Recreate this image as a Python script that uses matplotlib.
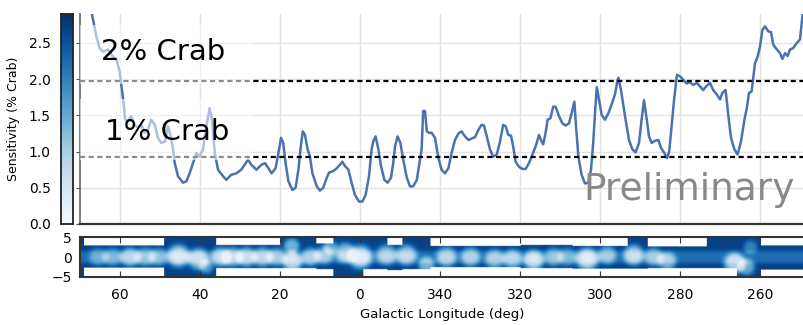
import numpy as np
import matplotlib
matplotlib.use('Agg')
import matplotlib.pyplot as plt
from matplotlib.patches import Rectangle
from matplotlib.ticker import FuncFormatter

# sensitivity curve, longitude in deg (negative = 360 + l)
lon = [67.2, 65.9, 65.1, 64.25, 63.0, 61.75, 60.9, 60.1, 59.5, 59.1,
       58.7, 58.0, 57.2, 56.3, 55.5, 54.7, 53.8, 53.0, 52.2, 51.3,
       50.5, 49.7, 48.7, 48.0, 47.3, 46.75, 46.3, 45.5, 44.25, 43.4,
       42.6, 41.75, 40.9, 40.1, 39.25, 38.4, 37.6, 37.0, 36.3, 35.5,
       34.25, 33.4, 32.2, 30.9, 29.7, 28.8, 28.0, 27.2, 25.9, 24.6,
       23.75, 22.9, 22.1, 21.1, 20.4, 19.75, 19.2, 18.6, 17.9, 16.9,
       16.1, 15.4, 14.8, 14.3, 13.75, 13.1, 12.5, 11.9, 10.8, 10.0,
       9.2, 8.3, 7.75, 6.7, 5.8, 5.0, 4.4, 3.75, 2.9, 2.1,
       1.25, 0.25, -0.6, -1.4, -2.25, -2.9, -3.3, -3.9, -4.6, -5.25,
       -6.1, -6.9, -7.75, -8.3, -8.75, -9.4, -10.1, -10.8, -11.7, -12.5,
       -13.3, -14.2, -14.75, -15.4, -15.8, -16.25, -16.7, -17.25, -17.9, -18.75,
       -19.6, -20.4, -21.25, -22.1, -22.9, -23.75, -24.6, -25.4, -26.25, -27.1,
       -27.9, -28.75, -29.6, -30.4, -31.0, -31.7, -32.5, -33.3, -34.2, -35.0,
       -35.8, -36.4, -37.1, -37.75, -38.3, -38.9, -39.75, -40.6, -41.4, -42.25,
       -43.1, -43.9, -44.75, -45.25, -45.8, -46.4, -46.9, -47.6, -48.3, -48.9,
       -49.75, -50.6, -51.4, -52.25, -52.9, -53.6, -54.0, -54.6, -55.4, -56.25,
       -57.1, -57.75, -58.3, -58.75, -59.2, -59.75, -60.4, -61.25, -62.1, -62.9,
       -63.75, -64.4, -64.6, -65.25, -66.25, -67.25, -68.1, -68.9, -69.75, -70.4,
       -71.0, -71.7, -72.25, -72.9, -73.75, -74.6, -75.25, -76.1, -76.75, -77.3,
       -77.9, -78.6, -79.25, -80.0, -80.8, -81.7, -82.5, -83.3, -84.2, -85.0,
       -85.8, -86.7, -87.5, -88.3, -89.2, -90.0, -90.6, -91.4, -92.1, -92.75,
       -93.6, -94.4, -95.25, -96.1, -96.7, -97.25, -97.9, -98.4, -98.75, -99.4,
       -100.0, -100.6, -101.25, -102.1, -102.75, -103.3, -104.2, -105.0, -105.6, -106.25,
       -106.9, -107.5, -108.3, -109.2, -110.0, -110.6, -110.9]
sens = [2.95, 2.59, 2.43, 2.38, 2.41, 2.31, 2.27, 2.11, 1.85, 1.67,
        1.44, 1.42, 1.49, 1.37, 1.33, 1.37, 1.26, 1.30, 1.44, 1.37,
        1.19, 1.12, 1.14, 1.35, 1.21, 1.03, 0.84, 0.66, 0.57, 0.59,
        0.70, 0.84, 0.98, 0.93, 1.03, 1.35, 1.60, 1.44, 0.98, 0.75,
        0.66, 0.61, 0.68, 0.70, 0.75, 0.82, 0.89, 0.82, 0.75, 0.82,
        0.84, 0.77, 0.70, 0.77, 0.98, 1.19, 1.12, 0.84, 0.59, 0.47,
        0.50, 0.75, 1.07, 1.28, 1.23, 1.03, 0.93, 0.70, 0.52, 0.46,
        0.50, 0.64, 0.71, 0.73, 0.77, 0.82, 0.86, 0.80, 0.75, 0.57,
        0.40, 0.31, 0.31, 0.40, 0.66, 1.03, 1.14, 1.21, 1.03, 0.80,
        0.61, 0.57, 0.64, 0.84, 1.07, 1.21, 1.12, 0.89, 0.64, 0.52,
        0.52, 0.61, 0.80, 1.03, 1.56, 1.56, 1.28, 1.26, 1.26, 1.19,
        0.91, 0.75, 0.70, 0.77, 0.98, 1.16, 1.25, 1.28, 1.21, 1.16,
        1.18, 1.20, 1.30, 1.37, 1.36, 1.21, 1.03, 0.93, 0.96, 1.14,
        1.37, 1.35, 1.23, 1.22, 1.07, 0.86, 0.79, 0.76, 0.76, 0.84,
        0.96, 1.07, 1.23, 1.16, 1.10, 1.26, 1.44, 1.46, 1.62, 1.62,
        1.49, 1.39, 1.36, 1.39, 1.53, 1.69, 1.35, 0.93, 0.68, 0.56,
        0.57, 0.75, 1.12, 1.53, 1.89, 1.72, 1.51, 1.44, 1.53, 1.65,
        1.79, 1.99, 2.02, 1.85, 1.49, 1.16, 1.03, 0.99, 1.12, 1.44,
        1.71, 1.44, 1.21, 1.12, 1.15, 1.16, 1.05, 0.98, 0.91, 1.00,
        1.35, 1.76, 2.06, 2.04, 1.99, 1.94, 1.96, 1.92, 1.95, 1.90,
        1.85, 1.91, 1.95, 1.85, 1.79, 1.72, 1.81, 1.85, 1.49, 1.19,
        1.03, 0.96, 1.14, 1.44, 1.60, 1.81, 1.83, 2.06, 2.22, 2.31,
        2.45, 2.68, 2.73, 2.66, 2.65, 2.48, 2.41, 2.36, 2.28, 2.36,
        2.32, 2.41, 2.43, 2.50, 2.55, 2.87, 3.0]

crab_levels = [1.98, 0.93]
crab_labels = ['2% Crab', '1% Crab']
xticks = [60, 40, 20, 0, -20, -40, -60, -80, -100]

# sky map: coverage strips (start lon, top b, bottom b) and bright spots
cov_start = [70, 69, 49, 36, 20, 11, 6.7, -0.8, -6.7, -10.5, -17.5, -40, -53, -66.7, -71.7, -86.7, -94, -100]
cov_top   = [5, 2.9, 5, 3.0, 5, 3.4, 5, 5, 3.0, 5, 2.8, 3.0, 2.8, 5, 2.7, 5, 5, 2.9]
cov_bot   = [-5, -2.7, -5, -2.8, -2.8, -3.0, -5, -3.0, -3.3, -3.0, -2.6, -2.8, -2.9, -2.9, -2.8, -2.8, -5, -3.2]
spot_l = [65.5, 62.0, 57.6, 53.8, 50.5, 45.5, 40.5, 38.5, 35.0, 32.0, 28.5, 24.5, 21.0, 17.2, 17.0,
          12.5, 9.0, 7.5, 3.8, 0.0, -6.5, -11.5, -16.5, -21.5, -27.5, -33.5, -38.0, -43.3, -48.3,
          -51.7, -56.7, -61.7, -68.3, -73.3, -76.7, -93.5, -96.5, -97.5]
spot_b = [0, 0, 0, 0, 0, 0.3, -0.5, -2.5, 0, 0, 0, 0, 0, 2.8, -1.2,
          0, 0.5, 2.5, 1.0, 0, 0.5, 0.5, -2.0, 0, 0, -0.5, -0.5, -0.8, 0,
          0, -0.5, 0.5, 0.5, 0, -1.0, -1.5, -2.5, 2.5]
spot_w = [2.0, 2.0, 2.1, 2.1, 2.0, 2.4, 2.3, 1.5, 2.1, 2.1, 2.1, 2.1, 2.0, 1.7, 2.1,
          2.0, 2.0, 1.5, 2.2, 2.5, 2.2, 2.2, 1.8, 2.2, 2.1, 2.1, 2.1, 2.2, 2.0,
          2.0, 2.4, 2.0, 2.2, 2.0, 2.0, 2.2, 1.8, 1.5]
spot_d = [0.8, 0.9, 1.4, 1.1, 1.0, 1.8, 1.6, 0.9, 1.5, 1.4, 1.5, 1.4, 1.2, 1.3, 1.8,
          1.3, 1.2, 1.0, 1.5, 1.9, 1.4, 1.5, 1.3, 1.4, 1.3, 1.3, 1.4, 1.8, 1.1,
          0.9, 1.9, 1.2, 1.6, 1.2, 1.3, 1.7, 1.2, 0.7]

line_col = '#4a72b0'
ymax = 2.9
xl = (70, -111)

fig = plt.figure(figsize=(8.04, 3.25), dpi=100)
ax = fig.add_axes([0.0995, 0.3108, 0.9005, 0.646])
cax = fig.add_axes([0.0759, 0.3108, 0.0149, 0.646])
bx = fig.add_axes([0.0995, 0.1477, 0.9005, 0.123])

# main panel
ax.plot(lon, sens, color=line_col, lw=1.8, solid_joinstyle='round', zorder=3)
for lev in crab_levels:
    ax.axhline(lev, color='black', lw=1.6, ls=(0, (2.3, 1.6)), zorder=4)
# faded boxes behind the labels
ax.add_patch(Rectangle((70, 1.93), 26.75 - 70, 2.75 - 1.93, facecolor='white',
                       alpha=0.55, edgecolor='none', zorder=5))
ax.add_patch(Rectangle((70, 0.89), 26.75 - 70, 1.72 - 0.89, facecolor='white',
                       alpha=0.55, edgecolor='none', zorder=5))
ax.text(64.7, 2.38, crab_labels[0], fontsize=21, va='center', ha='left', zorder=6)
ax.text(63.8, 1.27, crab_labels[1], fontsize=21, va='center', ha='left', zorder=6)
ax.text(-55.75, 0.47, 'Preliminary', fontsize=27, color='#888888', va='center', ha='left', zorder=6)

ax.set_xlim(xl)
ax.set_ylim(0, ymax)
ax.set_xticks(xticks)
ax.set_yticks([0, 0.5, 1.0, 1.5, 2.0, 2.5])
ax.yaxis.set_major_formatter(FuncFormatter(lambda v, p: '%.1f' % v))
ax.tick_params(axis='x', labelbottom=False, length=0)
ax.tick_params(axis='y', length=3, pad=18, labelsize=10, color='#555555')
ax.grid(True, color='#e2e2e2', lw=1)
ax.set_axisbelow(True)
for s in ['top', 'right']:
    ax.spines[s].set_visible(False)
ax.spines['left'].set_color('#666666')
ax.spines['left'].set_linewidth(1.2)
ax.spines['bottom'].set_color('#333333')
ax.spines['bottom'].set_linewidth(1.6)
ax.set_ylabel('Sensitivity (% Crab)', fontsize=9, labelpad=4)
ax.yaxis.set_label_coords(-0.083, 0.5)

# colour bar
grad = np.linspace(0, ymax, 256).reshape(-1, 1)
cax.imshow(grad, cmap='Blues', origin='lower', extent=[0, 1, 0, ymax], aspect='auto', vmin=0, vmax=ymax)
cax.set_xticks([])
cax.set_yticks([])
for s in cax.spines.values():
    s.set_color('#222222')
    s.set_linewidth(1.3)

# sky map panel
lg = np.linspace(xl[0], xl[1], 724)
bg = np.linspace(-5, 5, 81)
L, B = np.meshgrid(lg, bg)
val = np.full(L.shape, 2.7)
val -= 0.5 * np.exp(-0.5 * (B / 1.4) ** 4)
for l0, b0, w, d in zip(spot_l, spot_b, spot_w, spot_d):
    r2 = ((L - l0) ** 2 + (B - b0) ** 2) / w ** 2
    val -= d * np.exp(-0.5 * r2 ** 2)
val = np.clip(val, 0.2, None)
mask = np.ones(L.shape, dtype=bool)
edges = cov_start + [xl[1]]
for i in range(len(cov_start)):
    seg = (L <= edges[i]) & (L > edges[i + 1])
    mask[seg & (B <= cov_top[i]) & (B >= cov_bot[i])] = False
val = np.ma.array(val, mask=mask)
cmap = plt.get_cmap('Blues').copy()
cmap.set_bad('white')
bx.imshow(val, cmap=cmap, origin='lower', extent=[xl[0], xl[1], -5, 5], aspect='auto',
          vmin=0, vmax=ymax, interpolation='bilinear')
bx.set_xlim(xl)
bx.set_ylim(-5, 5)
bx.set_xticks(xticks)
bx.xaxis.set_major_formatter(FuncFormatter(lambda v, p: '%d' % (int(round(v)) % 360)))
bx.set_yticks([5, 0, -5])
bx.tick_params(axis='x', direction='in', top=True, length=4, color='#333333', labelsize=10, pad=8)
bx.tick_params(axis='y', length=0, labelsize=10, pad=6)
bx.spines['right'].set_visible(False)
for s in ['top', 'bottom', 'left']:
    bx.spines[s].set_color('#333333')
    bx.spines[s].set_linewidth(1.5)
bx.set_xlabel('Galactic Longitude (deg)', fontsize=9.5, labelpad=4)

fig.savefig('out.png', dpi=100)
